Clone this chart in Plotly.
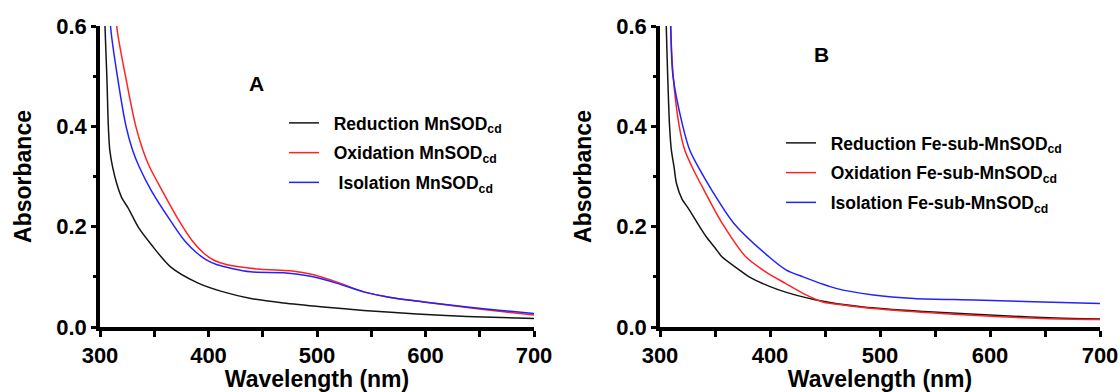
import plotly.graph_objects as go

# ---------------- Panel A (MnSOD_cd) ----------------
a_red_x = [303.8, 304.6, 306.3, 307.7, 309.0, 311.5, 315.4, 320, 326, 335.3, 347, 365, 390, 412, 439, 469, 506, 543, 592, 638, 670, 700]
a_red_y = [0.70, 0.60, 0.50, 0.40, 0.353, 0.32, 0.286, 0.258, 0.237, 0.199, 0.165, 0.120, 0.088, 0.071, 0.057, 0.048, 0.040, 0.033, 0.026, 0.021, 0.019, 0.017]
a_ox_x = [314.2, 315.4, 323.5, 333, 339.5, 345.5, 357, 374.2, 385, 395.7, 405, 417.2, 448, 475.6, 497, 521.7, 543, 567.7, 598.4, 638.4, 670, 700]
a_ox_y = [0.70, 0.60, 0.50, 0.40, 0.353, 0.32, 0.273, 0.207, 0.172, 0.147, 0.133, 0.124, 0.115, 0.112, 0.104, 0.087, 0.070, 0.059, 0.050, 0.039, 0.031, 0.024]
a_iso_x = [308.8, 309.7, 316, 324, 330, 336, 347, 366.5, 378, 389.6, 398, 408, 438.7, 469.4, 494, 518.6, 543, 567.7, 598.4, 638.4, 670, 700]
a_iso_y = [0.70, 0.60, 0.50, 0.40, 0.353, 0.32, 0.273, 0.207, 0.172, 0.147, 0.134, 0.124, 0.110, 0.108, 0.101, 0.087, 0.070, 0.059, 0.050, 0.040, 0.033, 0.027]

# ---------------- Panel B (Fe-sub-MnSOD_cd) ----------------
b_red_x = [304.8, 305.7, 307.0, 308.7, 310.3, 312.7, 315, 320, 325.6, 336.3, 342, 350, 356.3, 372, 381, 408, 442, 485, 540, 617, 660, 700]
b_red_y = [0.70, 0.60, 0.50, 0.40, 0.353, 0.32, 0.286, 0.255, 0.237, 0.199, 0.180, 0.158, 0.140, 0.114, 0.100, 0.074, 0.054, 0.040, 0.031, 0.022, 0.018, 0.016]
b_ox_x = [309.2, 309.7, 312, 317.5, 322.5, 330.5, 340, 356.5, 378, 396, 414, 430, 448, 470, 494, 556, 648, 700]
b_ox_y = [0.70, 0.60, 0.50, 0.40, 0.353, 0.313, 0.273, 0.207, 0.140, 0.110, 0.087, 0.067, 0.050, 0.043, 0.037, 0.027, 0.017, 0.015]
b_iso_x = [309.2, 309.7, 311.8, 321, 327, 336.3, 347, 367, 399, 414.5, 430, 460, 494, 531, 586, 648, 700]
b_iso_y = [0.70, 0.60, 0.50, 0.398, 0.353, 0.313, 0.273, 0.207, 0.140, 0.114, 0.100, 0.077, 0.064, 0.057, 0.054, 0.050, 0.047]

NB = "\u00a0"
names_a = [NB * 2 + "Reduction MnSOD<sub>cd</sub>",
           NB * 2 + "Oxidation MnSOD<sub>cd</sub>",
           NB * 3 + "Isolation MnSOD<sub>cd</sub>"]
names_b = [NB * 2 + "Reduction Fe-sub-MnSOD<sub>cd</sub>",
           NB * 2 + "Oxidation Fe-sub-MnSOD<sub>cd</sub>",
           NB * 2 + "Isolation Fe-sub-MnSOD<sub>cd</sub>"]
colors = ["#151515", "#ff2222", "#2222ff"]

FONT = "Liberation Sans, Arial, sans-serif"

fig = go.Figure()
series_a = [(a_red_x, a_red_y), (a_ox_x, a_ox_y), (a_iso_x, a_iso_y)]
series_b = [(b_red_x, b_red_y), (b_ox_x, b_ox_y), (b_iso_x, b_iso_y)]
for i, ((x, y), n, c) in enumerate(zip(series_a, names_a, colors)):
    fig.add_trace(go.Scatter(x=x, y=y, name=n, mode="lines", legendgroup=f"a{i}",
                             line=dict(color=c, width=1.5, shape="spline", smoothing=0.8),
                             xaxis="x", yaxis="y", legend="legend"))
for i, ((x, y), n, c) in enumerate(zip(series_b, names_b, colors)):
    fig.add_trace(go.Scatter(x=x, y=y, name=n, mode="lines", legendgroup=f"b{i}",
                             line=dict(color=c, width=1.5, shape="spline", smoothing=0.8),
                             xaxis="x2", yaxis="y2", legend="legend2"))


def xax(domain, anchor):
    return dict(domain=domain, anchor=anchor, range=[300, 700], tickvals=[300, 400, 500, 600, 700],
                showline=True, linecolor="black", linewidth=3.5, ticks="outside", ticklen=6, tickwidth=2.5,
                tickcolor="black", showgrid=False, zeroline=False, automargin=False,
                minor=dict(tickvals=[350, 450, 550, 650], ticks="outside", ticklen=6, tickwidth=2.5,
                           tickcolor="black"),
                tickfont=dict(family=FONT, size=22, color="black", weight="bold"),
                title=dict(text="<b>Wavelength (nm)</b>", font=dict(family=FONT, size=23, color="black"),
                           standoff=1))


def yax(domain, anchor):
    return dict(domain=domain, anchor=anchor, range=[0, 0.6], tickvals=[0, 0.2, 0.4, 0.6],
                ticktext=["0.0", "0.2", "0.4", "0.6"],
                showline=True, linecolor="black", linewidth=3.5, ticks="outside", ticklen=5, tickwidth=2.5,
                tickcolor="black", showgrid=False, zeroline=False, automargin=False,
                minor=dict(tickvals=[0.1, 0.3, 0.5], ticks="outside", ticklen=3, tickwidth=2.5,
                           tickcolor="black"),
                tickfont=dict(family=FONT, size=22, color="black", weight="bold"),
                title=dict(text="<b>Absorbance</b>", font=dict(family=FONT, size=23, color="black"),
                           standoff=19))


ydom = [1 - 327 / 392, 1 - 26 / 392]
fig.update_layout(
    width=1120, height=392,
    margin=dict(l=0, r=0, t=0, b=0),
    paper_bgcolor="white", plot_bgcolor="white",
    showlegend=True,
    xaxis=xax([100 / 1120, 534 / 1120], "y"),
    yaxis=yax(ydom, "x"),
    xaxis2=xax([660 / 1120, 1100 / 1120], "y2"),
    yaxis2=yax(ydom, "x2"),
    legend=dict(x=284 / 1120, y=1 - 105 / 392, xanchor="left", yanchor="top", bgcolor="rgba(0,0,0,0)",
                font=dict(family=FONT, size=17.5, color="black", weight="bold"), itemwidth=30,
                tracegroupgap=4),
    legend2=dict(x=781 / 1120, y=1 - 125 / 392, xanchor="left", yanchor="top", bgcolor="rgba(0,0,0,0)",
                 font=dict(family=FONT, size=17.5, color="black", weight="bold"), itemwidth=30,
                 tracegroupgap=4),
    annotations=[
        dict(text="<b>A</b>", x=256 / 1120, y=1 - 83 / 392, xref="paper", yref="paper", showarrow=False,
             xanchor="center", yanchor="middle", font=dict(family=FONT, size=21, color="black")),
        dict(text="<b>B</b>", x=822 / 1120, y=1 - 55 / 392, xref="paper", yref="paper", showarrow=False,
             xanchor="center", yanchor="middle", font=dict(family=FONT, size=21, color="black")),
    ],
)

fig.write_html("out.html")
